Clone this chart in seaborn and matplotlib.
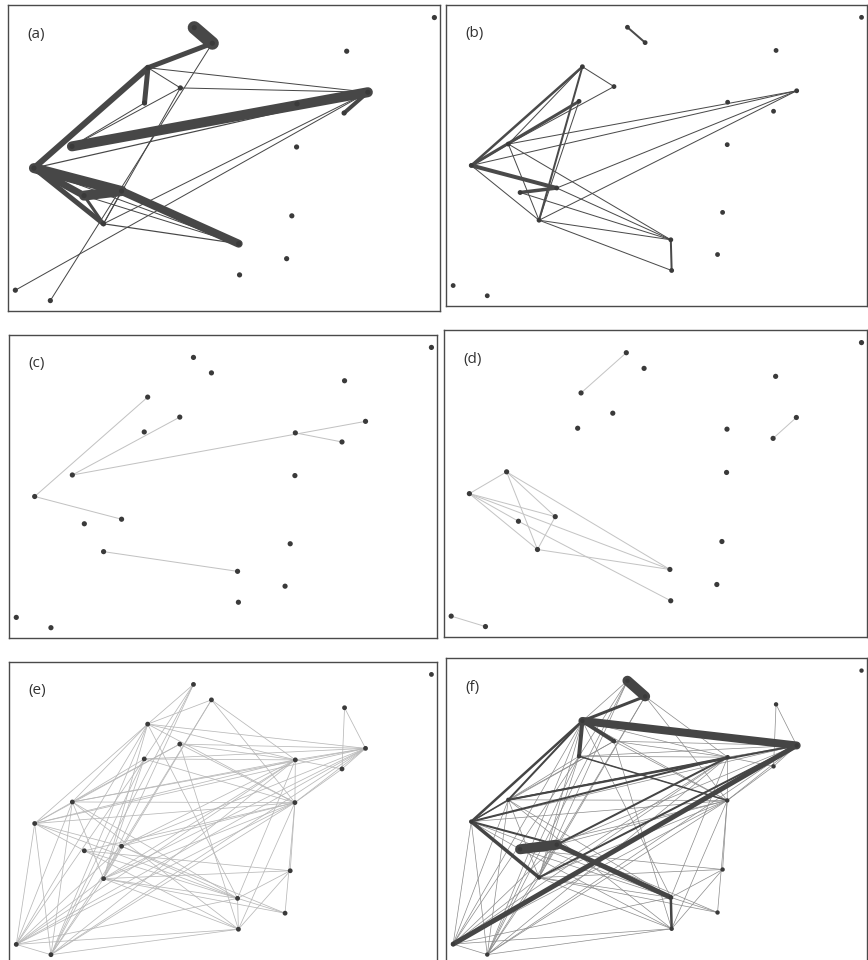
import numpy as np
import pandas as pd
import matplotlib
matplotlib.use("Agg")
import matplotlib.pyplot as plt
import seaborn as sns

sns.set_theme(style="white")
plt.rcParams['font.family'] = ['Open Sans', 'DejaVu Sans']

# ---- node layout (normalised panel coordinates, y from top) ----
node_ids = list(range(1, 23))
node_x = [0.431, 0.473, 0.987, 0.784, 0.324, 0.399, 0.316, 0.833, 0.669, 0.778, 0.148,
          0.668, 0.060, 0.263, 0.176, 0.221, 0.657, 0.534, 0.645, 0.536, 0.017, 0.098]
node_y = [0.074, 0.125, 0.041, 0.151, 0.205, 0.271, 0.320, 0.285, 0.323, 0.353, 0.462,
          0.464, 0.533, 0.608, 0.623, 0.715, 0.689, 0.780, 0.829, 0.882, 0.932, 0.966]

panel_labels = ["(a)", "(b)", "(c)", "(d)", "(e)", "(f)"]

# ---- edges: (source, target, weight) ----
edges_a = [(1, 2, 13), (2, 5, 5), (5, 13, 6), (5, 7, 5), (5, 8, 1), (5, 6, 1), (6, 8, 1),
           (6, 11, 1), (8, 11, 10), (8, 10, 4), (13, 14, 10), (15, 14, 10), (13, 15, 7),
           (14, 18, 8), (13, 16, 5), (15, 16, 3), (16, 18, 1.2), (15, 18, 1), (14, 16, 1),
           (13, 8, 1.2), (2, 22, 1), (6, 16, 1), (21, 8, 1), (16, 8, 1), (7, 11, 1), (13, 18, 1)]

edges_b = [(1, 2, 2), (13, 5, 2.5), (13, 7, 3), (11, 6, 1), (5, 6, 1), (5, 16, 2), (7, 16, 1),
           (5, 11, 1), (13, 14, 4), (15, 14, 3.5), (13, 16, 1), (11, 16, 1), (11, 8, 1),
           (13, 8, 1), (14, 8, 1), (16, 8, 1), (11, 18, 1), (15, 18, 1), (16, 18, 1),
           (16, 20, 1), (14, 18, 1), (18, 20, 2), (13, 11, 1.5)]

edges_c = [(13, 5, 1), (11, 6, 1), (11, 8, 1), (9, 10, 1), (13, 14, 1), (16, 18, 1)]

edges_d = [(1, 5, 1), (10, 8, 1), (21, 22, 1), (13, 11, 1), (11, 16, 1), (11, 18, 1),
           (11, 14, 1), (13, 14, 1), (13, 18, 1), (13, 16, 1), (15, 20, 1), (14, 16, 1),
           (16, 18, 1), (13, 15, 1)]

edges_e = [(4, 8, 1), (4, 10, 1), (1, 5, 1), (1, 7, 1), (1, 16, 1), (1, 22, 1), (2, 16, 1),
           (2, 12, 1), (2, 14, 1), (2, 9, 1), (2, 5, 1), (5, 13, 1), (5, 11, 1), (5, 8, 1),
           (5, 9, 1), (5, 16, 1), (5, 18, 1), (5, 21, 1), (5, 22, 1), (5, 12, 1), (6, 8, 1),
           (6, 9, 1), (6, 12, 1), (6, 20, 1), (6, 11, 1), (6, 13, 1), (7, 12, 1), (7, 9, 1),
           (7, 8, 1), (7, 21, 1), (7, 16, 1), (7, 22, 1), (7, 11, 1), (11, 8, 1), (11, 9, 1),
           (11, 12, 1), (11, 13, 1), (11, 18, 1), (11, 20, 1), (11, 21, 1), (11, 22, 1),
           (11, 16, 1), (13, 9, 1), (13, 14, 1), (13, 21, 1), (13, 15, 1), (13, 18, 1),
           (13, 12, 1), (13, 22, 1), (13, 8, 1), (14, 8, 1), (14, 9, 1), (14, 12, 1),
           (14, 16, 1), (14, 19, 1), (14, 18, 1), (14, 21, 1), (15, 18, 1), (15, 20, 1),
           (15, 17, 1), (15, 12, 1), (16, 8, 1), (16, 9, 1), (16, 12, 1), (16, 18, 1),
           (16, 17, 1), (16, 19, 1), (16, 20, 1), (17, 18, 1), (17, 20, 1), (17, 12, 1),
           (18, 19, 1), (18, 20, 1), (18, 9, 1), (19, 12, 1), (20, 12, 1), (21, 12, 1),
           (21, 9, 1), (21, 8, 1), (21, 16, 1), (21, 18, 1), (21, 20, 1), (21, 22, 1),
           (22, 9, 1), (22, 12, 1), (22, 20, 1), (22, 16, 1), (22, 14, 1), (22, 8, 1),
           (9, 8, 1), (9, 10, 1), (12, 8, 1), (12, 10, 1), (12, 9, 1), (10, 8, 1)]

edges_f_thick = [(1, 2, 10), (2, 5, 3), (5, 8, 8), (5, 6, 4), (5, 7, 4), (5, 13, 2.5),
                 (21, 8, 5), (13, 16, 3.5), (15, 14, 10), (14, 18, 5), (13, 14, 2),
                 (18, 20, 2.5), (11, 8, 2), (13, 9, 2), (14, 9, 2), (16, 8, 2),
                 (11, 9, 1.5), (7, 12, 1.5), (13, 11, 1.5), (5, 11, 2)]

W, H = 868, 960
fig = plt.figure(figsize=(W / 100, H / 100), dpi=100)


def add_panel(x0, y0, x1, y1):
    return fig.add_axes([x0 / W, 1 - y1 / H, (x1 - x0) / W, (y1 - y0) / H])


def draw_edges(ax, edges, color, scale=0.72):
    rows = []
    for k, (s, t, w) in enumerate(edges):
        for n in (s, t):
            rows.append(dict(edge=k, x=node_x[n - 1], y=node_y[n - 1], w=w))
    df = pd.DataFrame(rows)
    ws = sorted(df["w"].unique())
    sns.lineplot(data=df, x="x", y="y", units="edge", estimator=None, size="w",
                 sizes={w: w * scale for w in ws}, color=color, sort=False,
                 legend=False, ax=ax, solid_capstyle="round")


def finish(ax, label, node_s=14):
    sns.scatterplot(x=node_x, y=node_y, color="#3a3a3a", s=node_s, edgecolor="none",
                    ax=ax, zorder=5)
    ax.set_xlim(0, 1)
    ax.set_ylim(1, 0)
    ax.set_xticks([])
    ax.set_yticks([])
    ax.set_xlabel("")
    ax.set_ylabel("")
    for sp in ax.spines.values():
        sp.set_color("#4a4a4a")
        sp.set_linewidth(1.0)
    ax.text(0.045, 0.905, label, transform=ax.transAxes, fontsize=11,
            color="#333333", ha="left", va="center")


ax_a = add_panel(8, 5, 440, 311)
draw_edges(ax_a, edges_a, "#474747")
finish(ax_a, panel_labels[0])

ax_b = add_panel(446, 5, 867, 306)
draw_edges(ax_b, edges_b, "#4a4a4a")
finish(ax_b, panel_labels[1], node_s=12)

ax_c = add_panel(9, 335, 437, 638)
draw_edges(ax_c, edges_c, "#c2c2c2")
finish(ax_c, panel_labels[2])

ax_d = add_panel(444, 330, 867, 637)
draw_edges(ax_d, edges_d, "#c4c4c4")
finish(ax_d, panel_labels[3])

ax_e = add_panel(9, 662, 437, 965)
draw_edges(ax_e, edges_e, "#b8b8b8", scale=0.55)
finish(ax_e, panel_labels[4], node_s=12)

ax_f = add_panel(446, 658, 867, 965)
draw_edges(ax_f, edges_e, "#8a8a8a", scale=0.5)
draw_edges(ax_f, edges_f_thick, "#454545")
finish(ax_f, panel_labels[5], node_s=10)

fig.savefig("out.png", dpi=100)
